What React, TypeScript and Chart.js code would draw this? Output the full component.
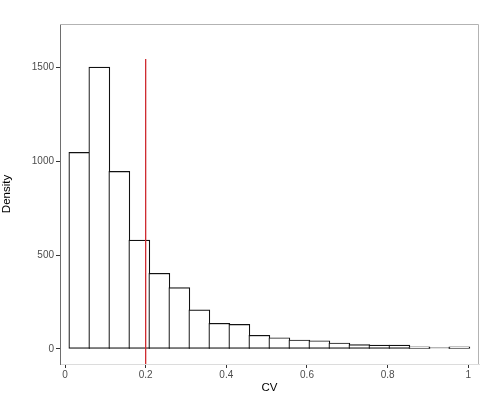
import React, { useEffect, useRef } from "react";
import { Chart, registerables } from "chart.js";

Chart.register(...registerables);

// Histogram bin centres (CV) and densities
const binCenters = [
  0.0355, 0.0851, 0.1347, 0.1843, 0.2339, 0.2835, 0.3331, 0.3827, 0.4323, 0.4819,
  0.5315, 0.5811, 0.6307, 0.6803, 0.7299, 0.7795, 0.8291, 0.8787, 0.9283, 0.9779,
];
const densities = [
  1047, 1501, 946, 580, 403, 327, 208, 137, 131, 73,
  60, 48, 44, 32, 23, 21, 21, 12, 7, 11,
];
// Red reference line at CV = 0.2
const refLineX = [0.2, 0.2];
const refLineY = [-80, 1545];

const xTicks = [0, 0.2, 0.4, 0.6, 0.8, 1];
const yTicks = [0, 500, 1000, 1500];
const xRange = [-0.0124, 1.0265];
const yRange = [-80, 1731];

const FONT = "'Liberation Sans', Arial, Helvetica, sans-serif";

const panelBorder = {
  id: "panelBorder",
  afterDatasetsDraw(chart: any) {
    const { ctx, chartArea } = chart;
    const { left, right, top, bottom } = chartArea;
    ctx.save();
    ctx.strokeStyle = "#b3b3b3";
    ctx.lineWidth = 1;
    ctx.beginPath();
    ctx.moveTo(left, top + 0.5);
    ctx.lineTo(right - 0.5, top + 0.5);
    ctx.lineTo(right - 0.5, bottom);
    ctx.stroke();
    ctx.restore();
  },
};

export default function App() {
  const ref = useRef<HTMLCanvasElement | null>(null);

  useEffect(() => {
    if (!ref.current) return;
    const chart = new Chart(ref.current, {
      type: "bar",
      data: {
        datasets: [
          {
            type: "line",
            label: "threshold",
            data: refLineX.map((x, i) => ({ x, y: refLineY[i] })),
            borderColor: "#cf2a2f",
            borderWidth: 1.3,
            pointRadius: 0,
            fill: false,
            order: 0,
          } as any,
          {
            type: "bar",
            label: "Density",
            data: binCenters.map((x, i) => ({ x, y: densities[i] })),
            backgroundColor: "#ffffff",
            borderColor: "#111111",
            borderWidth: 1.2,
            borderSkipped: false,
            barThickness: 21,
            order: 1,
          } as any,
        ],
      },
      options: {
        responsive: false,
        animation: false,
        layout: { padding: { left: 0, right: 7, top: 24, bottom: 0 } },
        plugins: {
          legend: { display: false },
          tooltip: { enabled: false },
        },
        scales: {
          x: {
            type: "linear",
            offset: false,
            min: xRange[0],
            max: xRange[1],
            afterFit: (s: any) => {
              s.height = 34;
            },
            afterBuildTicks: (s: any) => {
              s.ticks = xTicks.map((v) => ({ value: v }));
            },
            ticks: {
              color: "#4d4d4d",
              font: { family: FONT, size: 10 },
              padding: 1,
              maxRotation: 0,
              autoSkip: false,
              callback: (v: any) => String(v),
            },
            grid: {
              offset: false,
              drawOnChartArea: false,
              drawTicks: true,
              tickLength: 4,
              color: "#333333",
            },
            border: { display: true, color: "#dcdcdc", width: 1 },
            title: {
              display: true,
              text: "CV",
              color: "#000000",
              font: { family: FONT, size: 11.5 },
              padding: { top: 0, bottom: 3 },
            },
          },
          y: {
            type: "linear",
            min: yRange[0],
            max: yRange[1],
            afterFit: (s: any) => {
              s.width = 60;
            },
            afterBuildTicks: (s: any) => {
              s.ticks = yTicks.map((v) => ({ value: v }));
            },
            ticks: {
              color: "#4d4d4d",
              font: { family: FONT, size: 10 },
              padding: 2,
              callback: (v: any) => String(v),
            },
            grid: {
              drawOnChartArea: false,
              drawTicks: true,
              tickLength: 4,
              color: "#333333",
            },
            border: { display: true, color: "#6e6e6e", width: 1 },
            title: {
              display: true,
              text: "Density",
              color: "#000000",
              font: { family: FONT, size: 11.5 },
              padding: { top: 0, bottom: 0 },
            },
          },
        },
      },
      plugins: [panelBorder],
    } as any);
    return () => chart.destroy();
  }, []);

  return (
    <div style={{ position: "absolute", left: 0, top: 0, width: 486, height: 398, background: "#fff" }}>
      <canvas ref={ref} width={486} height={398} style={{ display: "block" }} />
    </div>
  );
}
